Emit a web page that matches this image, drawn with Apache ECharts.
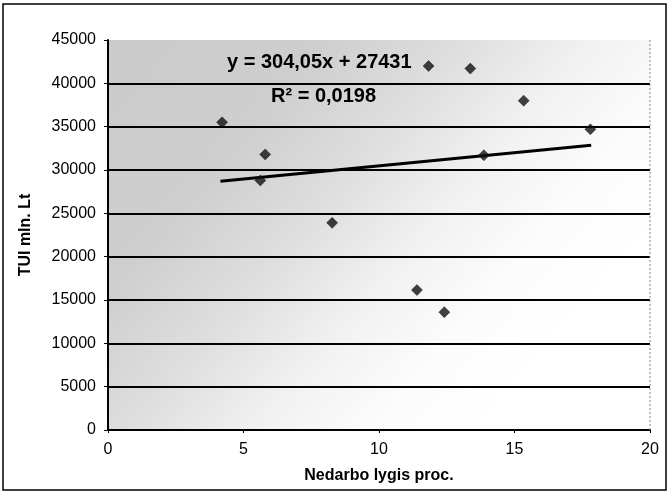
<!DOCTYPE html>
<html>
<head>
<meta charset="utf-8">
<script src="https://cdn.jsdelivr.net/npm/echarts@6/dist/echarts.min.js"></script>
<style>
html,body{margin:0;padding:0;background:#fff;}
#c{width:669px;height:494px;}
</style>
</head>
<body>
<div id="c"></div>
<script>
// Data
const xValues = [4.21, 5.62, 5.80, 8.27, 11.40, 11.83, 12.41, 13.37, 13.87, 15.34, 17.80];
const yValues = [35500, 28800, 31800, 23900, 16150, 42000, 13600, 41700, 31700, 38000, 34700];
const trendX = [4.15, 17.83];
const trendY = [28700, 32850];
const xTicks = [0, 5, 10, 15, 20];
const yTicks = [0, 5000, 10000, 15000, 20000, 25000, 30000, 35000, 40000, 45000];
const equationText = 'y = 304,05x + 27431';
const r2Text = 'R² = 0,0198';
const xTitle = 'Nedarbo lygis proc.';
const yTitle = 'TUI mln. Lt';

const points = xValues.map((x, i) => [x, yValues[i]]);
const trend = trendX.map((x, i) => [x, trendY[i]]);

const chart = echarts.init(document.getElementById('c'), null, {renderer: 'canvas'});
const font = 'Arial, "Liberation Sans", sans-serif';
const splitColors = yTicks.map((v, i) => i === yTicks.length - 1 ? 'rgba(0,0,0,0)' : '#000');

chart.setOption({
  animation: false,
  backgroundColor: '#fff',
  grid: {
    left: 108, right: 19, top: 40, bottom: 64,
    show: true,
    borderWidth: 0,
    backgroundColor: {
      type: 'linear', x: 0, y: 0, x2: 0.75, y2: 0.9,
      colorStops: [
        {offset: 0, color: '#cbcbcb'},
        {offset: 0.3, color: '#cecece'},
        {offset: 0.5, color: '#dedede'},
        {offset: 0.68, color: '#f1f1f1'},
        {offset: 0.85, color: '#fcfcfc'},
        {offset: 1, color: '#ffffff'}
      ]
    }
  },
  xAxis: {
    type: 'value', min: xTicks[0], max: xTicks[xTicks.length - 1], interval: 5,
    name: xTitle, nameLocation: 'middle', nameGap: 38,
    nameTextStyle: {fontFamily: font, fontSize: 16, fontWeight: 'bold', color: '#000'},
    axisLine: {show: true, onZero: false, lineStyle: {color: '#000', width: 2}},
    axisTick: {show: true, length: 3, lineStyle: {color: '#000'}},
    axisLabel: {fontFamily: font, fontSize: 16, color: '#000', margin: 12},
    splitLine: {show: false}
  },
  yAxis: {
    type: 'value', min: yTicks[0], max: yTicks[yTicks.length - 1], interval: 5000,
    name: yTitle, nameLocation: 'middle', nameGap: 74, nameRotate: 90,
    nameTextStyle: {fontFamily: font, fontSize: 16, fontWeight: 'bold', color: '#000'},
    axisLine: {show: true, onZero: false, lineStyle: {color: '#000', width: 2}},
    axisTick: {show: true, length: 4, lineStyle: {color: '#000'}},
    axisLabel: {fontFamily: font, fontSize: 16, color: '#000', margin: 12, formatter: v => String(v)},
    splitLine: {show: true, lineStyle: {color: splitColors, width: 2}}
  },
  graphic: [
    {type: 'rect', shape: {x: 3, y: 4, width: 663, height: 486}, style: {fill: null, stroke: '#000', lineWidth: 1.5}, z: 100},
    {type: 'line', shape: {x1: 650, y1: 40, x2: 650, y2: 430}, style: {stroke: '#888', lineWidth: 1, lineDash: [2, 2]}, z: 5},
    {type: 'text', left: 227, top: 52, style: {text: equationText, font: 'bold 20px Arial, "Liberation Sans", sans-serif', fill: '#000'}, z: 50},
    {type: 'text', left: 271, top: 86, style: {text: r2Text, font: 'bold 20px Arial, "Liberation Sans", sans-serif', fill: '#000'}, z: 50}
  ],
  series: [
    {
      type: 'line', data: trend, symbol: 'none',
      lineStyle: {color: '#000', width: 3}, z: 3
    },
    {
      type: 'scatter', data: points, symbol: 'diamond', symbolSize: 11,
      itemStyle: {color: '#111', borderColor: '#000', borderWidth: 0.5}, z: 4
    }
  ]
});
</script>
</body>
</html>
